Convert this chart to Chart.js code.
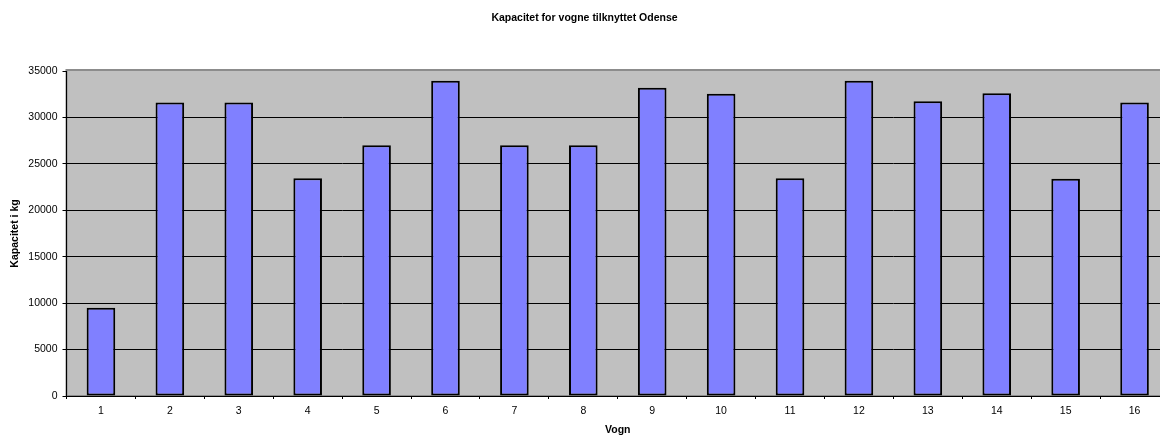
<!DOCTYPE html>
<html>
<head>
<meta charset="utf-8">
<title>Kapacitet for vogne tilknyttet Odense</title>
<script src="https://cdn.jsdelivr.net/npm/chart.js@4/dist/chart.umd.min.js"></script>
<style>
  html, body { margin: 0; padding: 0; background: #fff; overflow: hidden; }
  #wrap { width: 1175px; height: 437px; }
</style>
</head>
<body>
<div id="wrap"><canvas id="chart" width="1175" height="437"></canvas></div>
<script>
// Wagons attached to Odense and their capacity in kg
const vogne = ['1', '2', '3', '4', '5', '6', '7', '8', '9', '10', '11', '12', '13', '14', '15', '16'];
const kapacitetKg = [9500, 31600, 31600, 23450, 27000, 33950, 27000, 27000, 33200, 32550, 23450, 33950, 31750, 32600, 23400, 31600];
const yTickValues = [0, 5000, 10000, 15000, 20000, 25000, 30000, 35000];

const chartTitle = 'Kapacitet for vogne tilknyttet Odense';
const xTitle = 'Vogn';
const yTitle = 'Kapacitet i kg';

const FONT = '"Liberation Sans", Arial, sans-serif';

// Grey plot area with a grey frame, painted before the axes and bars
const plotArea = {
  id: 'plotArea',
  beforeDraw(chart) {
    const { ctx, chartArea: a } = chart;
    ctx.save();
    ctx.fillStyle = '#C0C0C0';
    ctx.fillRect(a.left, a.top, a.right - a.left, a.bottom - a.top);
    ctx.strokeStyle = '#8C8C8C';
    ctx.lineWidth = 2;
    ctx.strokeRect(a.left, a.top - 1, a.right - a.left, a.bottom - a.top + 1);
    ctx.restore();
  }
};

new Chart(document.getElementById('chart'), {
  type: 'bar',
  data: {
    labels: vogne,
    datasets: [{
      label: yTitle,
      data: kapacitetKg,
      backgroundColor: '#8080FF',
      borderColor: '#000000',
      borderWidth: 2,
      borderSkipped: false,
      barPercentage: 0.415,
      categoryPercentage: 1.0
    }]
  },
  options: {
    responsive: false,
    animation: false,
    devicePixelRatio: 1,
    layout: { padding: { left: 0, right: 6, top: 0, bottom: 0 } },
    plugins: {
      legend: { display: false },
      tooltip: { enabled: false },
      title: {
        display: true,
        text: chartTitle,
        color: '#000',
        font: { family: FONT, size: 10.5, weight: 'bold', lineHeight: 1.2 },
        padding: { top: 12, bottom: 46.4 }
      }
    },
    scales: {
      x: {
        type: 'category',
        offset: true,
        border: { display: true, color: '#000', width: 1 },
        grid: {
          offset: true,
          drawOnChartArea: false,
          drawTicks: true,
          tickLength: 3,
          tickColor: '#000',
          tickWidth: 1
        },
        ticks: {
          color: '#000',
          font: { family: FONT, size: 10.5 },
          padding: 6,
          maxRotation: 0,
          autoSkip: false
        },
        title: {
          display: true,
          text: xTitle,
          color: '#000',
          font: { family: FONT, size: 10.5, weight: 'bold', lineHeight: 1.2 },
          padding: { top: 0, bottom: 1 }
        },
        afterFit(scale) { scale.height = 41; }
      },
      y: {
        min: 0,
        max: 35000,
        border: { display: true, color: '#000', width: 1 },
        grid: {
          color: (c) => (c.tick && c.tick.value === 35000) ? 'rgba(0,0,0,0)' : '#000',
          lineWidth: 1,
          drawTicks: true,
          tickLength: 4,
          tickColor: '#000',
          tickWidth: 1
        },
        afterBuildTicks(scale) {
          scale.ticks = yTickValues.map(v => ({ value: v }));
        },
        ticks: {
          color: '#000',
          font: { family: FONT, size: 10.5 },
          padding: 5,
          callback: (v) => String(v)
        },
        title: {
          display: true,
          text: yTitle,
          color: '#000',
          font: { family: FONT, size: 10.5, weight: 'bold', lineHeight: 1.2 },
          padding: { top: 9, bottom: 0 }
        },
        afterFit(scale) { scale.width = 66.5; }
      }
    }
  },
  plugins: [plotArea]
});
</script>
</body>
</html>
